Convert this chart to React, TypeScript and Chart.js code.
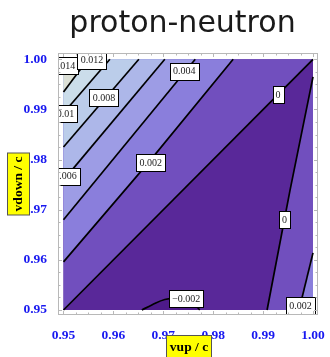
import React, { useEffect, useRef } from 'react';
import { Chart, registerables } from 'chart.js';

Chart.register(...registerables);

// ---- axis ticks ----
const xTickValues = [0.95, 0.96, 0.97, 0.98, 0.99, 1.0];
const yTickValues = [0.95, 0.96, 0.97, 0.98, 0.99, 1.0];
const tickLabels = ['0.95', '0.96', '0.97', '0.98', '0.99', '1.00'];
const minorStep = 0.0025;

// ---- contour lines (vup, vdown) ----
const c014 = [{ x: 0.95, y: 0.9975 }, { x: 0.9521, y: 1.0 }];
const c012 = [{ x: 0.95, y: 0.9935 }, { x: 0.9549, y: 1.0 }];
const c010 = [{ x: 0.95, y: 0.9893 }, { x: 0.9593, y: 1.0 }];
const c008 = [{ x: 0.95, y: 0.9825 }, { x: 0.9651, y: 1.0 }];
const c006 = [{ x: 0.95, y: 0.9759 }, { x: 0.9703, y: 1.0 }];
const c004 = [{ x: 0.95, y: 0.968 }, { x: 0.9764, y: 1.0 }];
const c002 = [{ x: 0.95, y: 0.9596 }, { x: 0.9671, y: 0.9795 }, { x: 0.984, y: 1.0 }];
const c000a = [{ x: 0.95, y: 0.95 }, { x: 1.0, y: 1.0 }];
const c000b = [{ x: 1.0, y: 0.9965 }, { x: 0.9954, y: 0.9739 }, { x: 0.9908, y: 0.95 }];
const c002b = [{ x: 1.0, y: 0.9614 }, { x: 0.9972, y: 0.95 }];
const cm002 = [
  { x: 0.9657, y: 0.95 }, { x: 0.9677, y: 0.951 }, { x: 0.9703, y: 0.9521 },
  { x: 0.9733, y: 0.9524 }, { x: 0.9757, y: 0.9516 }, { x: 0.9773, y: 0.95 },
];

// ---- band colours, lowest to highest ----
const bandColors = [
  'rgb(78,26,138)',   // < -0.002
  'rgb(89,40,153)',   // -0.002 .. 0
  'rgb(113,79,190)',  // 0 .. 0.002
  'rgb(138,126,220)', // 0.002 .. 0.004
  'rgb(157,156,229)', // 0.004 .. 0.006
  'rgb(173,183,233)', // 0.006 .. 0.008
  'rgb(187,205,234)', // 0.008 .. 0.010
  'rgb(203,221,234)', // 0.010 .. 0.012
  'rgb(220,224,214)', // 0.012 .. 0.014
  'rgb(232,230,215)', // > 0.014
];

// ---- contour labels ----
const labelTexts = ['0.014', '0.012', '0.01', '0.008', '0.006', '0.004', '0.002', '0', '0', '\u22120.002', '0.002'];
const labelX = [0.9501, 0.9557, 0.9504, 0.9581, 0.9504, 0.9742, 0.9675, 0.993, 0.9943, 0.9746, 0.9975];
const labelY = [0.9987, 0.9998, 0.9891, 0.9924, 0.9767, 0.9976, 0.9794, 0.9929, 0.968, 0.9523, 0.9508];

const TITLE = 'proton-neutron';
const X_TITLE = 'vup / c';
const Y_TITLE = 'vdown / c';

const corner = { x: 0.95, y: 1.0 };

function poly(points: { x: number; y: number }[], color: string, order: number, tension = 0) {
  return {
    data: points,
    showLine: true,
    fill: 'shape',
    backgroundColor: color,
    borderWidth: 0,
    borderColor: 'rgba(0,0,0,0)',
    pointRadius: 0,
    tension,
    order,
  };
}
function line(points: { x: number; y: number }[], tension = 0) {
  return {
    data: points,
    showLine: true,
    fill: false,
    borderColor: '#000',
    borderWidth: 1.7,
    pointRadius: 0,
    tension,
    order: 0,
  };
}

const decorPlugin = {
  id: 'decor',
  afterDatasetsDraw(chart: any) {
    const { ctx, chartArea: a, scales } = chart;
    const xs = scales.x;
    const ys = scales.y;
    // contour labels
    ctx.save();
    ctx.beginPath();
    ctx.rect(a.left, a.top, a.right - a.left, a.bottom - a.top);
    ctx.clip();
    ctx.font = '10px "Liberation Serif"';
    ctx.textAlign = 'center';
    ctx.textBaseline = 'middle';
    labelTexts.forEach((t, i) => {
      const px = xs.getPixelForValue(labelX[i]);
      const py = ys.getPixelForValue(labelY[i]);
      const w = Math.round(ctx.measureText(t).width + 6);
      const h = 17;
      const l = Math.round(px - w / 2) + 0.5;
      const tp = Math.round(py - h / 2) + 0.5;
      ctx.fillStyle = '#fff';
      ctx.fillRect(l, tp, w, h);
      ctx.strokeStyle = '#000';
      ctx.lineWidth = 1;
      ctx.strokeRect(l, tp, w, h);
      ctx.fillStyle = '#222';
      ctx.fillText(t, px, py + 0.5);
    });
    ctx.restore();

    // frame and ticks
    ctx.save();
    ctx.strokeStyle = '#b8b8b8';
    ctx.lineWidth = 1;
    ctx.strokeRect(a.left + 0.5, a.top + 0.5, a.right - a.left - 1, a.bottom - a.top - 1);
    ctx.beginPath();
    for (let v = 0.95; v <= 1.00001; v += minorStep) {
      const major = Math.abs(Math.round(v * 100) - v * 100) < 1e-6;
      const len = major ? 4 : 2.5;
      const px = Math.round(xs.getPixelForValue(v)) + 0.5;
      ctx.moveTo(px, a.bottom); ctx.lineTo(px, a.bottom - len);
      ctx.moveTo(px, a.top); ctx.lineTo(px, a.top + len);
      const py = Math.round(ys.getPixelForValue(v)) + 0.5;
      ctx.moveTo(a.left, py); ctx.lineTo(a.left + len, py);
      ctx.moveTo(a.right, py); ctx.lineTo(a.right - len, py);
    }
    ctx.stroke();
    ctx.restore();

    // title
    ctx.save();
    ctx.fillStyle = '#1a1a1a';
    ctx.font = '30px "DejaVu Sans"';
    ctx.textAlign = 'center';
    ctx.textBaseline = 'alphabetic';
    ctx.fillText(TITLE, 182.5, 32);
    ctx.restore();

    // axis title boxes
    ctx.save();
    ctx.font = 'bold 13.5px "Liberation Serif"';
    ctx.textAlign = 'center';
    ctx.textBaseline = 'middle';
    const cx = (a.left + a.right) / 2 + 1;
    ctx.fillStyle = '#ffff00';
    ctx.fillRect(cx - 22.5, 335.5, 45, 24);
    ctx.strokeStyle = '#555';
    ctx.strokeRect(cx - 22.5, 335.5, 45, 24);
    ctx.fillStyle = '#000';
    ctx.fillText(X_TITLE, cx, 347.5);

    ctx.translate(18.5, 184);
    ctx.rotate(-Math.PI / 2);
    ctx.fillStyle = '#ffff00';
    ctx.fillRect(-31, -11, 62, 22);
    ctx.strokeStyle = '#555';
    ctx.strokeRect(-31, -11, 62, 22);
    ctx.fillStyle = '#000';
    ctx.fillText(Y_TITLE, 0, 0.5);
    ctx.restore();
  },
};

export default function App() {
  const ref = useRef<HTMLCanvasElement | null>(null);
  useEffect(() => {
    if (!ref.current) return;
    const datasets: any[] = [
      poly([{ x: 0.95, y: 0.95 }, { x: 0.95, y: 1.0 }, { x: 1.0, y: 1.0 }, { x: 1.0, y: 0.95 }], bandColors[1], 60),
      poly(cm002, bandColors[0], 59, 0.4),
      poly([...c000a, corner], bandColors[2], 58),
      poly([...c000b, { x: 1.0, y: 0.95 }], bandColors[2], 58),
      poly([...c002, corner], bandColors[3], 57),
      poly([...c002b, { x: 1.0, y: 0.95 }], bandColors[3], 57),
      poly([...c004, corner], bandColors[4], 56),
      poly([...c006, corner], bandColors[5], 55),
      poly([...c008, corner], bandColors[6], 54),
      poly([...c010, corner], bandColors[7], 53),
      poly([...c012, corner], bandColors[8], 52),
      poly([...c014, corner], bandColors[9], 51),
      line(c014), line(c012), line(c010), line(c008), line(c006), line(c004),
      line(c002), line(c000a), line(c000b), line(c002b), line(cm002, 0.4),
    ];
    const tickFont = { family: 'Liberation Serif', weight: 'bold' as const, size: 13.5 };
    const chart = new Chart(ref.current, {
      type: 'scatter',
      data: { datasets },
      plugins: [decorPlugin],
      options: {
        animation: false,
        responsive: false,
        events: [],
        layout: { padding: { top: 53, right: 12, left: 0, bottom: 0 } },
        plugins: { legend: { display: false }, tooltip: { enabled: false } },
        scales: {
          x: {
            type: 'linear',
            min: 0.948898,
            max: 1.001002,
            grid: { display: false },
            border: { display: false },
            afterBuildTicks: (s: any) => { s.ticks = xTickValues.map((v) => ({ value: v })); },
            afterFit: (s: any) => { s.height = 42; },
            ticks: {
              autoSkip: false,
              maxRotation: 0,
              padding: 4,
              color: 'rgb(24,24,240)',
              font: tickFont,
              callback: (v: any) => tickLabels[xTickValues.indexOf(v)] ?? '',
            },
          },
          y: {
            type: 'linear',
            min: 0.949003,
            max: 1.001256,
            grid: { display: false },
            border: { display: false },
            afterBuildTicks: (s: any) => { s.ticks = yTickValues.map((v) => ({ value: v })); },
            afterFit: (s: any) => { s.width = 58; },
            ticks: {
              autoSkip: false,
              padding: 3,
              color: 'rgb(24,24,240)',
              font: tickFont,
              callback: (v: any) => tickLabels[yTickValues.indexOf(v)] ?? '',
            },
          },
        },
      } as any,
    });
    return () => chart.destroy();
  }, []);
  return (
    <div style={{ position: 'fixed', left: 0, top: 0, width: 330, height: 357, background: '#fff' }}>
      <canvas ref={ref} width={330} height={357} style={{ width: 330, height: 357, display: 'block' }} />
    </div>
  );
}
